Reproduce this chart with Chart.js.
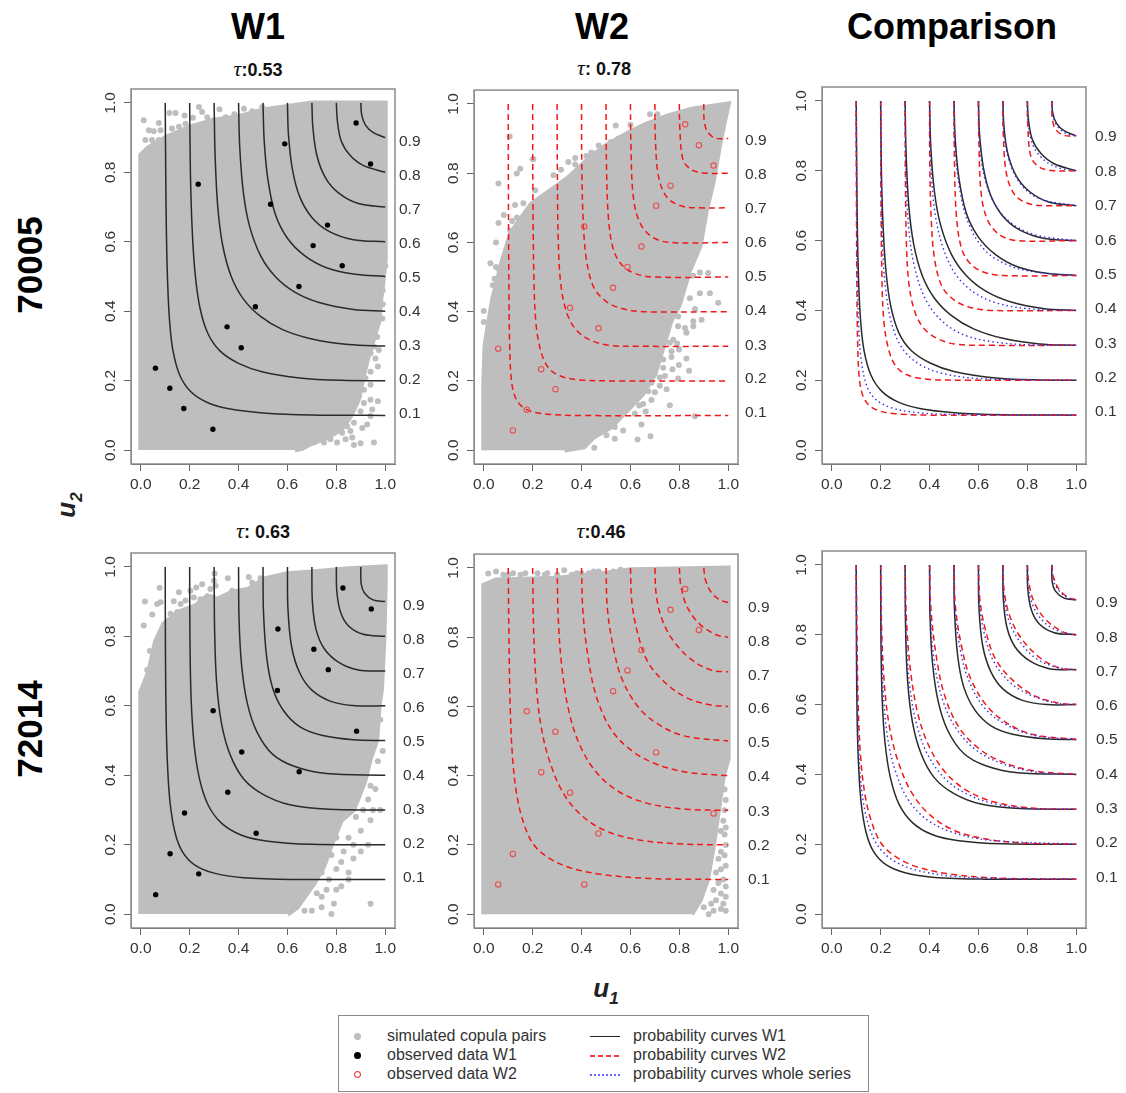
<!DOCTYPE html>
<html>
<head>
<meta charset="utf-8">
<script src="https://cdn.jsdelivr.net/npm/chart.js@4/dist/chart.umd.min.js"></script>
<style>
  html, body { margin: 0; background: #fff; }
  #page { position: relative; width: 1126px; height: 1093px; overflow: hidden; font-family: "Liberation Sans", Arial, sans-serif; color: #111; }
  canvas { position: absolute; }
  .txt { position: absolute; white-space: nowrap; transform: translate(-50%, -50%); }
  .head { font-weight: bold; font-size: 36px; color: #000; }
  .side { font-weight: bold; font-size: 35px; color: #000; transform: translate(-50%, -50%) rotate(-90deg); }
  .axisname { font-weight: bold; font-style: italic; font-size: 26px; color: #222; }
  .axisname sub { font-size: 17px; vertical-align: -7px; line-height: 0; }
  .tau { font-weight: bold; font-size: 18px; color: #111; }
  .tau i { font-family: "Liberation Serif", serif; font-weight: normal; font-size: 22px; }
  #legend { position: absolute; left: 338px; top: 1015px; width: 531px; height: 77px; border: 1px solid #8a8a8a; box-sizing: border-box; }
  .leg { position: absolute; font-size: 16px; color: #333; white-space: nowrap; line-height: 18px; }
  .dot { position: absolute; width: 7px; height: 7px; border-radius: 50%; box-sizing: border-box; }
  .seg { position: absolute; left: 251px; width: 30px; height: 2px; }
</style>
</head>
<body>
<div id="page">
  <div class="txt head" style="left:258px;top:27px">W1</div>
  <div class="txt head" style="left:602px;top:27px">W2</div>
  <div class="txt head" style="left:952px;top:27px">Comparison</div>
  <div class="txt side" style="left:30px;top:265px">70005</div>
  <div class="txt side" style="left:30px;top:729px">72014</div>
  <div class="txt axisname" style="left:66px;top:505px;transform:translate(-50%,-50%) rotate(-90deg)">u<sub>2</sub></div>
  <div class="txt axisname" style="left:606px;top:988px">u<sub>1</sub></div>
  <div class="txt tau" style="left:258px;top:69px"><i>τ</i>:0.53</div>
  <div class="txt tau" style="left:604px;top:68px"><i>τ</i>: 0.78</div>
  <div class="txt tau" style="left:263px;top:531px"><i>τ</i>: 0.63</div>
  <div class="txt tau" style="left:601px;top:531px"><i>τ</i>:0.46</div>
  <div id="legend">
    <span class="dot" style="left:15px;top:17px;background:#bebebe"></span>
    <span class="dot" style="left:15px;top:36px;background:#000"></span>
    <span class="dot" style="left:15px;top:55px;border:1px solid #e00"></span>
    <span class="leg" style="left:48px;top:11px">simulated copula pairs</span>
    <span class="leg" style="left:48px;top:30px">observed data W1</span>
    <span class="leg" style="left:48px;top:49px">observed data W2</span>
    <span class="seg" style="top:20px;height:1px;background:#222"></span>
    <span class="seg" style="top:39px;background:repeating-linear-gradient(90deg,#f33 0 5px,transparent 5px 8px)"></span>
    <span class="seg" style="top:58px;background:repeating-linear-gradient(90deg,#66f 0 2px,transparent 2px 4px)"></span>
    <span class="leg" style="left:294px;top:11px">probability curves W1</span>
    <span class="leg" style="left:294px;top:30px">probability curves W2</span>
    <span class="leg" style="left:294px;top:49px">probability curves whole series</span>
  </div>
</div>
<script>
const xTicks = [0, 0.2, 0.4, 0.6, 0.8, 1.0];
const levelLabels = ["0.1", "0.2", "0.3", "0.4", "0.5", "0.6", "0.7", "0.8", "0.9"];

// where the level text sits next to each panel
const levelPos70005W1 = [.104, .202, .300, .399, .497, .595, .693, .790, .888];
const levelPos70005W2 = [.107, .205, .303, .402, .500, .598, .697, .795, .894];
const levelPos70005Cmp = [.110, .208, .306, .405, .503, .601, .700, .798, .897];
const levelPos72014W1 = [.104, .202, .300, .399, .497, .595, .693, .790, .888];
const levelPos72014W2 = [.100, .199, .297, .396, .494, .592, .690, .788, .886];
const levelPos72014Cmp = [.105, .204, .302, .400, .498, .597, .695, .793, .891];

// observed pairs
const obs70005W1 = [[.06,.236],[.119,.178],[.176,.12],[.295,.06],[.235,.766],[.353,.355],[.411,.295],[.469,.413],[.531,.708],[.589,.882],[.647,.471],[.705,.589],[.764,.648],[.824,.531],[.881,.942],[.94,.824]];
const obs70005W2 = [[.059,.293],[.119,.057],[.176,.117],[.235,.234],[.293,.176],[.353,.411],[.411,.646],[.469,.352],[.529,.469],[.588,.529],[.645,.588],[.705,.706],[.764,.764],[.824,.941],[.88,.881],[.94,.822]];
const obs72014W1 = [[.061,.056],[.12,.174],[.179,.291],[.237,.116],[.296,.586],[.356,.351],[.413,.467],[.472,.233],[.561,.821],[.559,.644],[.648,.41],[.708,.763],[.767,.704],[.827,.939],[.883,.527],[.943,.879]];
const obs72014W2 = [[.059,.086],[.119,.174],[.176,.586],[.235,.41],[.293,.527],[.353,.351],[.411,.086],[.469,.233],[.529,.644],[.588,.704],[.645,.763],[.705,.467],[.764,.879],[.824,.939],[.88,.821],[.94,.291]];

// outline of the solid part of each simulated cloud
const cloud70005W1 = [[0,0],[0,.85],[.03,.87],[.1,.9],[.2,.93],[.3,.95],[.4,.96],[.5,.98],[.6,.99],[.7,1],[1,1],[1,.55],[.99,.48],[.981,.431],[.975,.374],[.955,.326],[.93,.269],[.91,.212],[.89,.145],[.86,.1],[.82,.06],[.76,.035],[.7,.02],[.66,.005],[.63,0]];
const cloud70005W2 = [[0,0],[0,.19],[.005,.3],[.016,.352],[.037,.438],[.078,.553],[.112,.629],[.194,.71],[.289,.758],[.344,.786],[.439,.848],[.5,.88],[.6,.92],[.66,.94],[.75,.965],[.85,.985],[.95,.995],[1,1],[.986,.954],[.966,.887],[.94,.78],[.91,.69],[.885,.59],[.84,.515],[.8,.42],[.765,.372],[.745,.324],[.72,.267],[.7,.219],[.65,.162],[.585,.114],[.52,.067],[.45,.038],[.41,.009],[.33,0]];
const cloud72014W1 = [[0,0],[0,.64],[.033,.698],[.06,.784],[.094,.836],[.156,.87],[.224,.888],[.272,.917],[.313,.907],[.374,.927],[.442,.936],[.503,.965],[.6,.98],[.7,.985],[.85,.995],[1,1],[1,.95],[.995,.8],[.985,.65],[.975,.6],[.965,.5],[.94,.45],[.915,.38],[.87,.3],[.82,.27],[.78,.2],[.75,.14],[.71,.09],[.67,.05],[.64,.02],[.6,0]];
const cloud72014W2 = [[0,0],[0,.95],[.05,.965],[.3,.97],[.5,.985],[.6,.995],[1,1],[1,.45],[.98,.4],[.96,.3],[.94,.2],[.915,.1],[.885,.04],[.85,0]];

// loose points outside those outlines
const specks70005W1 = [[.012,.95],[.074,.942],[.033,.921],[.053,.918],[.081,.921],[.117,.971],[.142,.971],[.179,.964],[.213,.957],[.238,.988],[.251,.974],[.272,.959],[.299,.95],[.322,.982],[.347,.959],[.383,.967],[.422,.983],[.456,.976],[.497,.988],[.019,.893],[.046,.893],[.074,.893],[.094,.888],[.128,.926],[.156,.931],[.183,.94],[.217,.931],[.142,.902],[.169,.912],[.203,.907],[.238,.921],[.272,.921],
  [.988,.379],[.967,.369],[.947,.345],[.967,.326],[.933,.317],[.954,.298],[.974,.288],[.94,.279],[.96,.264],[.97,.241],[.919,.245],[.94,.226],[.919,.207],[.94,.188],[.913,.174],[.97,.141],[.94,.145],[.892,.155],[.913,.136],[.947,.117],[.872,.126],[.899,.112],[.94,.098],[.906,.064],[.872,.079],[.844,.069],[.926,.074],[.865,.036],[.899,.02],[.954,.022],[.838,.031],[.872,.015],[.803,.022],[.776,.031],[.749,.022],[.824,.05],[.858,.055],[.708,.022],[.99,.46],[.99,.42],[1,.53]];
const specks70005W2 = [[.06,.77],[.135,.799],[.149,.813],[.203,.841],[.21,.751],[.269,.737],[.285,.794],[.316,.81],[.346,.832],[.374,.844],[.374,.825],[.128,.708],[.162,.713],[.196,.691],[.228,.717],[.258,.71],[.082,.679],[.116,.662],[.136,.672],[.139,.646],[.166,.656],[.187,.629],[.06,.656],[.108,.634],[.101,.6],[.05,.6],[.05,.529],[.064,.519],[.044,.495],[.027,.54],[.064,.438],[.037,.476],[0,.402],[0,.37],[.106,.906],[.2,.84],[.47,.88],[.54,.938],[.55,.9],[.6,.94],[.68,.97],[.71,.97],[.44,.86],[.42,.85],[.5,.87],[.52,.89],
  [.857,.504],[.884,.513],[.918,.512],[.884,.453],[.925,.453],[.959,.426],[.864,.408],[.843,.439],[.891,.377],[.857,.372],[.857,.358],[.795,.386],[.795,.358],[.823,.353],[.829,.339],[.775,.319],[.791,.308],[.761,.31],[.799,.291],[.768,.286],[.768,.269],[.829,.265],[.734,.262],[.798,.246],[.772,.234],[.84,.229],[.734,.238],[.741,.214],[.72,.21],[.795,.207],[.686,.195],[.748,.176],[.72,.186],[.7,.167],[.673,.17],[.761,.13],[.686,.145],[.652,.133],[.636,.129],[.662,.112],[.618,.105],[.598,.138],[.557,.105],[.864,.098],[.645,.074],[.536,.067],[.57,.057],[.495,.067],[.502,.043],[.536,.033],[.682,.04],[.629,.031],[.448,.05],[.452,.007],[.509,.105],[.475,.057],[.36,.02],[.4,.03]];
const specks72014W1 = [[.077,.94],[.017,.9],[.067,.893],[.081,.898],[.047,.863],[.012,.831],[.135,.901],[.156,.927],[.163,.893],[.183,.903],[.203,.931],[.227,.941],[.251,.95],[.217,.912],[.272,.903],[.251,.884],[.224,.87],[.197,.855],[.149,.87],[.122,.865],[.285,.936],[.306,.946],[.302,.981],[.356,.967],[.442,.971],[.49,.967],[.374,.931],[.415,.922],[.456,.955],[.449,.936],[.292,.912],[.299,.96],[.244,.907],[.026,.703],[.037,.758],[.047,.731],
  [.94,.03],[.78,0],[.74,.02],[.67,.01],[.8,.07],[.82,.08],[.85,.1],[.77,.1],[.74,.05],[.79,.03],[.85,.12],[.87,.16],[.9,.18],[.93,.2],[.83,.18],[.8,.13],[.85,.22],[.9,.24],[.94,.27],[.88,.28],[.95,.3],[.98,.3],[.93,.33],[.96,.36],[.99,.47],[.97,.44],[.98,.56],[.76,.07],[.82,.15],[.87,.2],[.91,.3],[.94,.37],[.7,.01],[.72,.06],[.8,.22],[.84,.3],[.78,.17],[.92,.4],[.74,.12]];
const specks72014W2 = [[.018,.984],[.05,.99],[.08,.98],[.1,.98],[.15,.98],[.17,.985],[.25,.98],[.26,.985],[.3,.98],[.329,.993],[.36,.98],[.4,.985],[.43,.985],[.47,.99],[.53,.99],[.56,.995],[.12,.985],[.22,.985],[.38,.985],[.45,.99],
  [.99,.44],[.985,.42],[.985,.36],[.99,.33],[.985,.3],[.98,.27],[.99,.25],[.985,.23],[.99,.2],[.97,.18],[.985,.17],[.99,.14],[.97,.13],[.96,.09],[.99,.08],[.94,.07],[.97,.06],[.99,.05],[.95,.04],[.98,.03],[.94,.01],[.97,.015],[.92,0],[.99,.01],[.96,.16],[.98,.1],[.93,.03],[.9,.02],[.95,.12],[.97,.24]];

// probability curves, one list of [u1, u2] per level 0.1 .. 0.9
const curvesW1_70005 = [
  [[.1,1],[.102,.8],[.105,.62],[.11,.48],[.118,.37],[.132,.285],[.16,.215],[.205,.168],[.27,.138],[.36,.119],[.5,.107],[.7,.101],[1,.1]],
  [[.2,1],[.203,.8],[.21,.64],[.222,.51],[.242,.41],[.275,.335],[.325,.285],[.4,.25],[.5,.225],[.65,.208],[.82,.201],[1,.2]],
  [[.3,1],[.304,.85],[.315,.7],[.335,.59],[.37,.5],[.42,.435],[.49,.385],[.58,.347],[.7,.32],[.85,.304],[1,.3]],
  [[.4,1],[.405,.87],[.42,.74],[.445,.645],[.49,.56],[.55,.5],[.63,.455],[.73,.425],[.87,.405],[1,.4]],
  [[.5,1],[.505,.89],[.52,.78],[.55,.68],[.6,.61],[.67,.56],[.76,.525],[.87,.507],[1,.5]],
  [[.6,1],[.604,.91],[.62,.81],[.65,.73],[.7,.67],[.77,.63],[.87,.606],[1,.6]],
  [[.7,1],[.704,.93],[.72,.85],[.755,.785],[.81,.74],[.89,.71],[1,.7]],
  [[.8,1],[.804,.95],[.82,.89],[.855,.85],[.91,.82],[1,.8]],
  [[.9,1],[.904,.965],[.92,.935],[.95,.915],[1,.9]]
];
const curvesW2_70005 = [
  [[.1,1],[.101,.7],[.103,.45],[.106,.3],[.112,.21],[.125,.16],[.15,.13],[.19,.113],[.26,.104],[.4,.1],[1,.1]],
  [[.2,1],[.201,.75],[.205,.5],[.213,.37],[.232,.29],[.262,.24],[.31,.215],[.39,.203],[.55,.2],[1,.2]],
  [[.3,1],[.301,.8],[.305,.6],[.315,.48],[.338,.4],[.375,.35],[.43,.32],[.51,.303],[.65,.3],[1,.3]],
  [[.4,1],[.401,.82],[.407,.66],[.42,.55],[.45,.47],[.5,.43],[.56,.41],[.65,.4],[1,.4]],
  [[.5,1],[.502,.82],[.51,.67],[.53,.58],[.565,.535],[.62,.51],[.7,.5],[1,.5]],
  [[.6,1],[.602,.88],[.612,.73],[.64,.655],[.69,.615],[.76,.6],[1,.6]],
  [[.7,1],[.702,.9],[.715,.79],[.75,.73],[.81,.705],[.88,.7],[1,.7]],
  [[.8,1],[.802,.93],[.815,.84],[.85,.81],[.91,.8],[1,.8]],
  [[.9,1],[.902,.95],[.915,.92],[.945,.902],[1,.9]]
];
const curvesAll_70005 = [
  [[.1,1],[.102,.7],[.105,.48],[.111,.34],[.122,.25],[.145,.18],[.18,.145],[.24,.122],[.34,.108],[.5,.102],[1,.1]],
  [[.2,1],[.202,.78],[.208,.58],[.222,.45],[.25,.35],[.295,.285],[.36,.245],[.45,.22],[.6,.205],[1,.2]],
  [[.3,1],[.303,.82],[.314,.64],[.34,.52],[.385,.43],[.45,.37],[.54,.33],[.66,.31],[.82,.301],[1,.3]],
  [[.4,1],[.403,.85],[.42,.69],[.455,.58],[.51,.5],[.585,.45],[.68,.42],[.82,.404],[1,.4]],
  [[.5,1],[.503,.88],[.525,.74],[.565,.64],[.63,.57],[.72,.53],[.83,.51],[1,.5]],
  [[.6,1],[.603,.9],[.625,.78],[.675,.695],[.745,.645],[.84,.615],[1,.6]],
  [[.7,1],[.703,.92],[.725,.83],[.775,.76],[.85,.72],[1,.7]],
  [[.8,1],[.803,.94],[.825,.87],[.87,.83],[.93,.808],[1,.8]],
  [[.9,1],[.903,.965],[.92,.93],[.955,.908],[1,.9]]
];
const curvesW1_72014 = [
  [[.1,1],[.101,.75],[.104,.55],[.11,.42],[.12,.32],[.14,.235],[.17,.18],[.22,.142],[.3,.118],[.42,.105],[.62,.1],[1,.1]],
  [[.2,1],[.201,.8],[.206,.62],[.218,.49],[.24,.39],[.275,.315],[.33,.262],[.41,.228],[.52,.21],[.7,.201],[1,.2]],
  [[.3,1],[.302,.82],[.31,.67],[.33,.55],[.365,.46],[.42,.39],[.5,.345],[.61,.315],[.77,.302],[1,.3]],
  [[.4,1],[.402,.85],[.412,.72],[.435,.61],[.475,.525],[.54,.46],[.63,.425],[.76,.405],[1,.4]],
  [[.5,1],[.502,.87],[.515,.74],[.54,.65],[.585,.585],[.65,.54],[.74,.515],[.87,.502],[1,.5]],
  [[.6,1],[.602,.88],[.617,.77],[.65,.695],[.7,.645],[.78,.612],[.88,.6],[1,.6]],
  [[.7,1],[.702,.9],[.717,.82],[.75,.765],[.81,.725],[.89,.703],[1,.7]],
  [[.8,1],[.802,.93],[.817,.87],[.85,.83],[.91,.806],[1,.8]],
  [[.9,1],[.902,.95],[.915,.925],[.95,.905],[1,.9]]
];
const curvesW2_72014 = [
  [[.1,1],[.103,.8],[.108,.6],[.118,.45],[.135,.345],[.16,.27],[.2,.205],[.26,.165],[.35,.135],[.48,.115],[.68,.103],[1,.1]],
  [[.2,1],[.204,.82],[.215,.66],[.235,.54],[.27,.44],[.325,.35],[.4,.285],[.5,.24],[.63,.215],[.8,.203],[1,.2]],
  [[.3,1],[.305,.85],[.32,.71],[.35,.58],[.395,.485],[.46,.41],[.55,.355],[.67,.32],[.83,.303],[1,.3]],
  [[.4,1],[.405,.88],[.425,.75],[.46,.63],[.52,.535],[.6,.475],[.7,.435],[.83,.41],[1,.4]],
  [[.5,1],[.506,.88],[.53,.77],[.565,.68],[.63,.6],[.71,.55],[.82,.515],[1,.5]],
  [[.6,1],[.606,.9],[.63,.81],[.67,.73],[.74,.67],[.83,.625],[.93,.604],[1,.6]],
  [[.7,1],[.706,.92],[.73,.85],[.775,.79],[.85,.735],[.93,.705],[1,.7]],
  [[.8,1],[.806,.95],[.83,.89],[.88,.84],[.95,.807],[1,.8]],
  [[.9,1],[.907,.965],[.93,.93],[.965,.908],[1,.9]]
];
const curvesAll_72014 = [
  [[.1,1],[.102,.75],[.106,.55],[.115,.41],[.132,.31],[.16,.235],[.2,.185],[.26,.15],[.35,.125],[.5,.108],[.7,.102],[1,.1]],
  [[.2,1],[.203,.8],[.212,.62],[.232,.49],[.265,.4],[.315,.325],[.39,.27],[.49,.235],[.64,.212],[1,.2]],
  [[.3,1],[.303,.82],[.318,.66],[.345,.55],[.39,.46],[.46,.39],[.55,.345],[.67,.315],[.82,.302],[1,.3]],
  [[.4,1],[.403,.86],[.42,.72],[.455,.61],[.51,.53],[.59,.47],[.7,.43],[.85,.405],[1,.4]],
  [[.5,1],[.503,.88],[.525,.76],[.56,.67],[.625,.59],[.72,.54],[.84,.51],[1,.5]],
  [[.6,1],[.603,.9],[.625,.8],[.665,.72],[.735,.66],[.82,.625],[.92,.604],[1,.6]],
  [[.7,1],[.703,.92],[.725,.84],[.77,.78],[.84,.73],[.92,.707],[1,.7]],
  [[.8,1],[.803,.94],[.825,.88],[.87,.835],[.93,.81],[1,.8]],
  [[.9,1],[.904,.96],[.925,.93],[.96,.908],[1,.9]]
];

const toXY = pts => pts.map(([x, y]) => ({ x, y }));
const GRAY = "#bebebe";

function cloudSets(cloud, specks) {
    return [
        { data: toXY(cloud), showLine: true, fill: "shape", backgroundColor: GRAY, borderColor: GRAY, borderWidth: 5, pointRadius: 0, order: 10 },
        { data: toXY(specks), backgroundColor: GRAY, borderWidth: 0, pointRadius: 3, order: 9 }
    ];
}
function curveSets(curves, color, width, dash, order) {
    return curves.map(pts => ({
        data: toXY(pts), showLine: true, fill: false, borderColor: color, borderWidth: width,
        borderDash: dash, pointRadius: 0, tension: 0.35, order
    }));
}
const solid = curves => curveSets(curves, "#2a2a2a", 1.5, [], 5);
const dashed = curves => curveSets(curves, "#f01818", 1.5, [6, 4], 4);
const dotted = curves => curveSets(curves, "#3030ee", 1.4, [1.5, 3], 3);
const blackDots = obs => [{ data: toXY(obs), backgroundColor: "#000", borderWidth: 0, pointRadius: 2.7, order: 1 }];
const redRings = obs => [{ data: toXY(obs), backgroundColor: "transparent", borderColor: "#e85050", borderWidth: 1.1, pointRadius: 2.7, order: 1 }];

// gray frame around the plot region, like R's box()
const boxPlugin = {
    id: "box",
    afterDraw(chart) {
        const { left, top, width, height } = chart.chartArea;
        const ctx = chart.ctx;
        ctx.save();
        ctx.strokeStyle = "#8c8c8c";
        ctx.lineWidth = 1.5;
        ctx.strokeRect(left, top, width, height);
        ctx.restore();
    }
};

function makePanel(left, top, levelPos, levelPad, datasets) {
    const canvas = document.createElement("canvas");
    const marginLeft = 50, marginRight = 50, marginTop = 2, marginBottom = 40;
    canvas.width = 264 + marginLeft + marginRight;
    canvas.height = 377 + marginTop + marginBottom;
    canvas.style.left = (left - marginLeft) + "px";
    canvas.style.top = (top - marginTop) + "px";
    document.getElementById("page").appendChild(canvas);

    const tickFont = { family: "'Liberation Sans', Arial, sans-serif", size: 15.5 };
    const axisGrid = { display: true, drawOnChartArea: false, drawTicks: true, tickLength: 7, color: "#666" };
    // stop chart.js from reserving room for overhanging tick labels
    const fitX = s => { s.height = marginBottom; s.paddingLeft = 0; s.paddingRight = 0; };
    const fitY = w => s => { s.width = w; s.paddingTop = 0; s.paddingBottom = 0; };

    new Chart(canvas, {
        type: "scatter",
        data: { datasets },
        options: {
            responsive: false,
            animation: false,
            layout: { padding: { top: marginTop } },
            plugins: { legend: { display: false }, tooltip: { enabled: false } },
            scales: {
                x: {
                    type: "linear", min: -0.04, max: 1.04,
                    afterBuildTicks: s => { s.ticks = xTicks.map(value => ({ value })); },
                    afterFit: fitX,
                    ticks: { font: tickFont, color: "#333", maxRotation: 0, padding: 4, autoSkip: false, callback: v => v.toFixed(1) },
                    grid: axisGrid,
                    border: { display: true, color: "#555" }
                },
                y: {
                    type: "linear", min: -0.04, max: 1.04, position: "left",
                    afterBuildTicks: s => { s.ticks = xTicks.map(value => ({ value })); },
                    afterFit: fitY(marginLeft),
                    ticks: { font: tickFont, color: "#333", minRotation: 90, maxRotation: 90, crossAlign: "center", padding: 3, autoSkip: false, callback: v => v.toFixed(1) },
                    grid: axisGrid,
                    border: { display: true, color: "#8c8c8c" }
                },
                y2: {
                    type: "linear", min: -0.04, max: 1.04, position: "right",
                    afterBuildTicks: s => { s.ticks = levelPos.map(value => ({ value })); },
                    afterFit: fitY(marginRight),
                    ticks: { font: tickFont, color: "#333", padding: levelPad, autoSkip: false, callback: (v, i) => levelLabels[i] },
                    grid: { display: false, drawTicks: false },
                    border: { display: false }
                }
            }
        },
        plugins: [boxPlugin]
    });
}

makePanel(131, 87, levelPos70005W1, 4, [...blackDots(obs70005W1), ...solid(curvesW1_70005), ...cloudSets(cloud70005W1, specks70005W1)]);
makePanel(474, 87, levelPos70005W2, 7, [...redRings(obs70005W2), ...dashed(curvesW2_70005), ...cloudSets(cloud70005W2, specks70005W2)]);
makePanel(822, 87, levelPos70005Cmp, 9, [...solid(curvesW1_70005), ...dashed(curvesW2_70005), ...dotted(curvesAll_70005)]);
makePanel(131, 551, levelPos72014W1, 8, [...blackDots(obs72014W1), ...solid(curvesW1_72014), ...cloudSets(cloud72014W1, specks72014W1)]);
makePanel(474, 551, levelPos72014W2, 10, [...redRings(obs72014W2), ...dashed(curvesW2_72014), ...cloudSets(cloud72014W2, specks72014W2)]);
makePanel(822, 551, levelPos72014Cmp, 10, [...solid(curvesW1_72014), ...dashed(curvesW2_72014), ...dotted(curvesAll_72014)]);
</script>
</body>
</html>
